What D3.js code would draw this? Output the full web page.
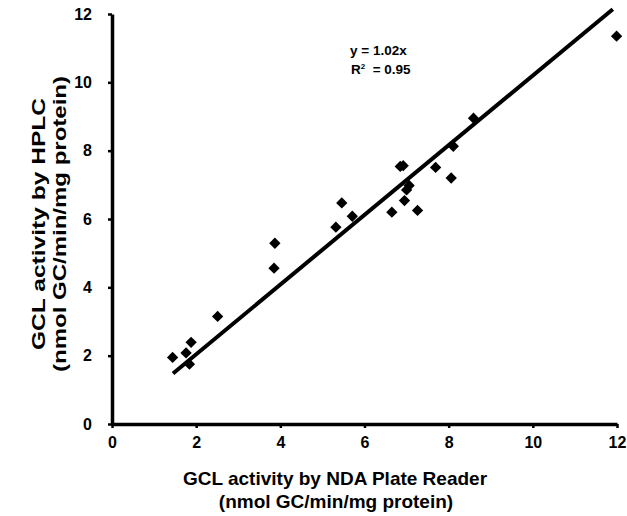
<!DOCTYPE html>
<html>
<head>
<meta charset="utf-8">
<script src="https://cdn.jsdelivr.net/npm/d3@7"></script>
<style>
  body { margin: 0; background: #fff; }
  svg text { font-family: "Liberation Sans", Arial, sans-serif; font-weight: bold; fill: #000; }
</style>
</head>
<body>
<div id="graf"></div>
<script>
// datos
plateReader = [1.44, 1.76, 1.84, 1.88, 2.51, 3.85, 3.87, 5.32, 5.46, 5.71, 6.65, 6.85, 6.92, 6.95, 7.00, 7.06, 7.26, 7.69, 8.06, 8.11, 8.59, 11.99]
hplc        = [1.95, 2.08, 1.75, 2.39, 3.15, 4.56, 5.29, 5.76, 6.47, 6.08, 6.20, 7.54, 7.56, 6.54, 6.85, 6.98, 6.25, 7.51, 7.20, 8.13, 8.95, 11.35]
ticks = [0, 2, 4, 6, 8, 10, 12]
slope = 1.02
lineaX = [1.45, 11.9]

ancho_total = 627
alto_total = 516

svg = d3.select('#graf').append('svg')
        .attr('width', ancho_total)
        .attr('height', alto_total)

// escalas
x = d3.scaleLinear().domain([0, 12]).range([112, 617])
y = d3.scaleLinear().domain([0, 12]).range([424, 14])

// ejes
xAxis = svg.append('g')
          .attr('transform', `translate(0, ${ y(0) })`)
          .call(d3.axisBottom(x).tickValues(ticks).tickSize(4).tickSizeOuter(0).tickPadding(9))
yAxis = svg.append('g')
          .attr('transform', `translate(${ x(0) }, 0)`)
          .call(d3.axisLeft(y).tickValues(ticks).tickSize(4).tickSizeOuter(0).tickPadding(16))

svg.selectAll('.domain').attr('stroke', '#000').attr('stroke-width', 3.5)
svg.selectAll('.tick line').attr('stroke', '#000').attr('stroke-width', 2.5)
svg.selectAll('.tick text').style('font-size', '16px').attr('fill', '#000')

// linea de tendencia
svg.append('line')
    .attr('x1', x(lineaX[0]))
    .attr('y1', y(slope * lineaX[0]))
    .attr('x2', x(lineaX[1]))
    .attr('y2', y(slope * lineaX[1]))
    .attr('stroke', '#000')
    .attr('stroke-width', 4)

// puntos (rombos)
diamond = d3.symbol().type(d3.symbolSquare).size(64)
svg.selectAll('path.punto')
    .data(plateReader)
    .enter()
    .append('path')
      .attr('class', 'punto')
      .attr('d', diamond)
      .attr('transform', (d, i) => `translate(${ x(d) }, ${ y(hplc[i]) }) rotate(45)`)
      .attr('fill', '#000')

// ecuacion
svg.append('text').attr('x', 350).attr('y', 55).style('font-size', '13.5px').text('y = 1.02x')
r2 = svg.append('text').attr('x', 351).attr('y', 74).style('font-size', '13.5px')
r2.append('tspan').text('R')
r2.append('tspan').attr('dy', -5).style('font-size', '8px').text('2')
r2.append('tspan').attr('dy', 5).text('  = 0.95').attr('xml:space', 'preserve')

// titulos de ejes
svg.append('text')
    .attr('x', 335).attr('y', 485)
    .attr('text-anchor', 'middle')
    .style('font-size', '19px')
    .text('GCL activity by NDA Plate Reader')
svg.append('text')
    .attr('x', 336).attr('y', 508)
    .attr('text-anchor', 'middle')
    .style('font-size', '19px')
    .text('(nmol GC/min/mg protein)')

ytit = svg.append('g').attr('transform', 'translate(0, 224) rotate(-90)')
ytit.append('text')
    .attr('x', 0).attr('y', 45)
    .attr('text-anchor', 'middle')
    .attr('textLength', 252)
    .attr('lengthAdjust', 'spacingAndGlyphs')
    .style('font-size', '19px')
    .text('GCL  activity by HPLC')
ytit.append('text')
    .attr('x', 0).attr('y', 66)
    .attr('text-anchor', 'middle')
    .attr('textLength', 296)
    .attr('lengthAdjust', 'spacingAndGlyphs')
    .style('font-size', '19px')
    .text('(nmol GC/min/mg protein)')
</script>
</body>
</html>
